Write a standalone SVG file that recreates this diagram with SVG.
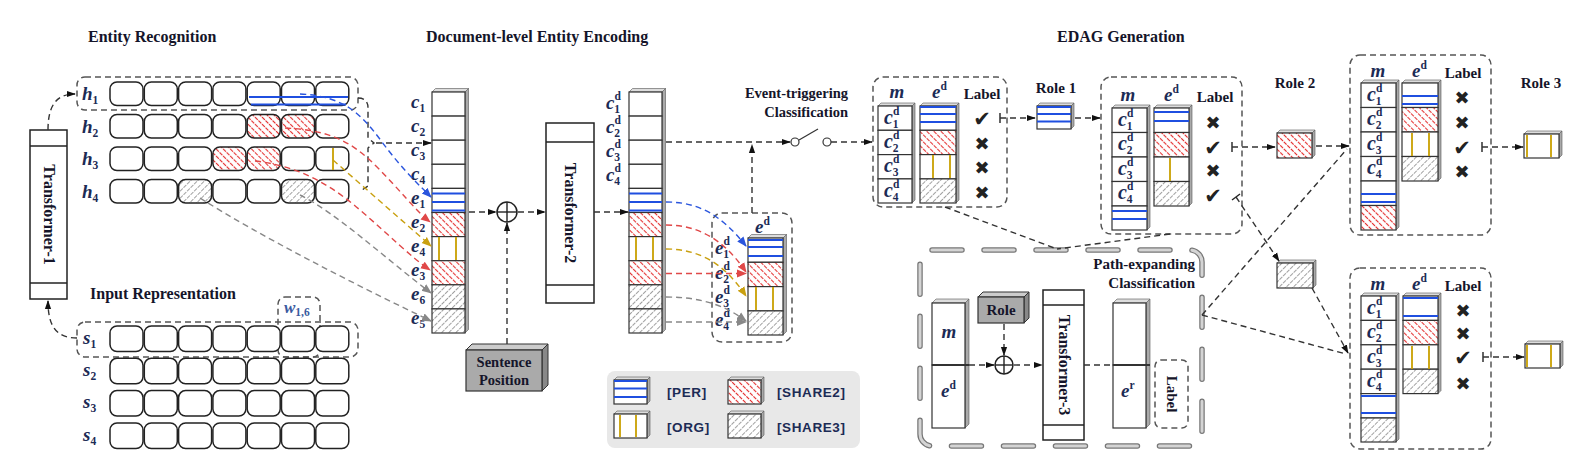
<svg xmlns="http://www.w3.org/2000/svg" width="1595" height="475" viewBox="0 0 1595 475">
<defs>
<style>
.title{font-family:"Liberation Serif",serif;font-weight:bold;font-size:16px;fill:#15152a}
.lbl{font-family:"Liberation Serif",serif;font-weight:bold;font-size:15px;fill:#15152a}
.lbl14{font-family:"Liberation Serif",serif;font-weight:bold;font-size:14.5px;fill:#15152a}
.math{font-family:"Liberation Serif",serif;font-style:italic;font-weight:bold;font-size:19px;fill:#1c2b55}
.sub{font-size:11.5px;font-style:normal}
.leg{font-family:"Liberation Sans",sans-serif;font-weight:bold;font-size:13.5px;fill:#1c2b55;letter-spacing:0.6px}
.mark{font-family:"DejaVu Sans",sans-serif;font-size:18px;fill:#222;text-anchor:middle}
.ck{font-size:21px}
.rc{fill:#fff;stroke:#222;stroke-width:1.5}
.bx{stroke:#333;stroke-width:1.2}
.w{fill:#fff}
.s2{fill:url(#p2)}
.s3{fill:url(#p3)}
.side{fill:#aaa;stroke:#555;stroke-width:0.6}
.top{fill:#ddd;stroke:#555;stroke-width:0.6}
.per{stroke:#1f4fe0;stroke-width:1.8}
.org{stroke:#c9a000;stroke-width:1.8}
.dbox{fill:none;stroke:#555;stroke-width:1.5;stroke-dasharray:6 4}
.arr{fill:none;stroke:#333;stroke-width:1.4;stroke-dasharray:6 4}
.arg{fill:none;stroke:#888;stroke-width:1.4;stroke-dasharray:6 4}
.ab{fill:none;stroke:#2a55dd;stroke-width:1.4;stroke-dasharray:6 4}
.ar{fill:none;stroke:#e04848;stroke-width:1.4;stroke-dasharray:6 4}
.ay{fill:none;stroke:#c9a010;stroke-width:1.4;stroke-dasharray:6 4}
.solid{fill:none;stroke:#222;stroke-width:1.4}
.tf{font-family:"Liberation Serif",serif;font-weight:bold;font-size:16px;fill:#15152a;text-anchor:middle}
</style>
<pattern id="p2" width="5" height="5" patternUnits="userSpaceOnUse" patternTransform="rotate(-45)">
<rect width="5" height="5" fill="#fff"/>
<line x1="2.5" y1="0" x2="2.5" y2="5" stroke="#e53030" stroke-width="1.1" stroke-dasharray="2 1"/>
</pattern>
<pattern id="p3" width="5" height="5" patternUnits="userSpaceOnUse" patternTransform="rotate(45)">
<rect width="5" height="5" fill="#fff"/>
<line x1="2.5" y1="0" x2="2.5" y2="5" stroke="#888" stroke-width="0.8" stroke-dasharray="3 1"/>
</pattern>
<marker id="mk" viewBox="0 0 10 10" refX="9" refY="5" markerWidth="9" markerHeight="9" markerUnits="userSpaceOnUse" orient="auto"><path d="M0,1.5 L10,5 L0,8.5 z" fill="#111"/></marker>
<marker id="mb" viewBox="0 0 10 10" refX="9" refY="5" markerWidth="10" markerHeight="10" markerUnits="userSpaceOnUse" orient="auto"><path d="M0,1 L10,5 L0,9 z" fill="#2a55dd"/></marker>
<marker id="mr" viewBox="0 0 10 10" refX="9" refY="5" markerWidth="10" markerHeight="10" markerUnits="userSpaceOnUse" orient="auto"><path d="M0,1 L10,5 L0,9 z" fill="#e04848"/></marker>
<marker id="my" viewBox="0 0 10 10" refX="9" refY="5" markerWidth="10" markerHeight="10" markerUnits="userSpaceOnUse" orient="auto"><path d="M0,1 L10,5 L0,9 z" fill="#c9a010"/></marker>
<marker id="mg" viewBox="0 0 10 10" refX="9" refY="5" markerWidth="10" markerHeight="10" markerUnits="userSpaceOnUse" orient="auto"><path d="M0,1 L10,5 L0,9 z" fill="#888"/></marker>
</defs>
<rect width="1595" height="475" fill="#fff"/>

<g id="titles">
<text class="title" x="88" y="42">Entity Recognition</text>
<text class="title" x="426" y="42">Document-level Entity Encoding</text>
<text class="title" x="1057" y="42">EDAG Generation</text>
<text class="title" x="90" y="299">Input Representation</text>
</g>

<g id="transformer1">
<rect x="30" y="130" width="37" height="169" fill="#fff" stroke="#222" stroke-width="1.5"/>
<line x1="30" y1="146" x2="67" y2="146" stroke="#222" stroke-width="1.3"/>
<line x1="30" y1="283" x2="67" y2="283" stroke="#222" stroke-width="1.3"/>
<text class="tf" transform="translate(48.5,214.5) rotate(90)" dy="5">Transformer-1</text>
</g>

<g id="h-rows">
<rect x="77" y="77" width="281" height="33" rx="8" class="dbox"/>
<text class="math" x="82" y="100">h<tspan class="sub" dy="4">1</tspan></text>
<text class="math" x="82" y="132.5">h<tspan class="sub" dy="4">2</tspan></text>
<text class="math" x="82" y="165">h<tspan class="sub" dy="4">3</tspan></text>
<text class="math" x="82" y="197.5">h<tspan class="sub" dy="4">4</tspan></text>
<g>
<rect class="rc" x="110" y="82" width="33" height="23.5" rx="7"/><rect class="rc" x="144.3" y="82" width="33" height="23.5" rx="7"/><rect class="rc" x="178.6" y="82" width="33" height="23.5" rx="7"/><rect class="rc" x="212.9" y="82" width="33" height="23.5" rx="7"/><rect class="rc" x="247.2" y="82" width="33" height="23.5" rx="7"/><rect class="rc" x="281.5" y="82" width="33" height="23.5" rx="7"/><rect class="rc" x="315.8" y="82" width="33" height="23.5" rx="7"/>
<line class="per" x1="249" y1="97" x2="348" y2="97"/><line class="per" x1="251" y1="104.5" x2="346" y2="104.5"/>
</g>
<g>
<rect class="rc" x="110" y="114.5" width="33" height="23.5" rx="7"/><rect class="rc" x="144.3" y="114.5" width="33" height="23.5" rx="7"/><rect class="rc" x="178.6" y="114.5" width="33" height="23.5" rx="7"/><rect class="rc" x="212.9" y="114.5" width="33" height="23.5" rx="7"/><rect class="rc s2" x="247.2" y="114.5" width="33" height="23.5" rx="7"/><rect class="rc s2" x="281.5" y="114.5" width="33" height="23.5" rx="7"/><rect class="rc" x="315.8" y="114.5" width="33" height="23.5" rx="7"/>
</g>
<g>
<rect class="rc" x="110" y="147" width="33" height="23.5" rx="7"/><rect class="rc" x="144.3" y="147" width="33" height="23.5" rx="7"/><rect class="rc" x="178.6" y="147" width="33" height="23.5" rx="7"/><rect class="rc s2" x="212.9" y="147" width="33" height="23.5" rx="7"/><rect class="rc s2" x="247.2" y="147" width="33" height="23.5" rx="7"/><rect class="rc" x="281.5" y="147" width="33" height="23.5" rx="7"/><rect class="rc" x="315.8" y="147" width="33" height="23.5" rx="7"/>
<line class="org" x1="333" y1="148" x2="333" y2="170"/>
</g>
<g>
<rect class="rc" x="110" y="179.5" width="33" height="23.5" rx="7"/><rect class="rc" x="144.3" y="179.5" width="33" height="23.5" rx="7"/><rect class="rc s3" x="178.6" y="179.5" width="33" height="23.5" rx="7"/><rect class="rc" x="212.9" y="179.5" width="33" height="23.5" rx="7"/><rect class="rc" x="247.2" y="179.5" width="33" height="23.5" rx="7"/><rect class="rc s3" x="281.5" y="179.5" width="33" height="23.5" rx="7"/><rect class="rc" x="315.8" y="179.5" width="33" height="23.5" rx="7"/>
</g>
</g>

<g id="s-rows">
<rect x="77" y="322" width="281" height="35" rx="8" class="dbox"/>
<rect x="278" y="297" width="42" height="60" rx="7" class="dbox"/>
<text class="math" x="284" y="313" style="fill:#3a5aa0;font-size:17px">w<tspan class="sub" dy="3">1,6</tspan></text>
<text class="math" x="83" y="344">s<tspan class="sub" dy="4">1</tspan></text>
<text class="math" x="83" y="376">s<tspan class="sub" dy="4">2</tspan></text>
<text class="math" x="83" y="408">s<tspan class="sub" dy="4">3</tspan></text>
<text class="math" x="83" y="441">s<tspan class="sub" dy="4">4</tspan></text>
<rect class="rc" x="110" y="326" width="33" height="25.5" rx="7"/><rect class="rc" x="144.3" y="326" width="33" height="25.5" rx="7"/><rect class="rc" x="178.6" y="326" width="33" height="25.5" rx="7"/><rect class="rc" x="212.9" y="326" width="33" height="25.5" rx="7"/><rect class="rc" x="247.2" y="326" width="33" height="25.5" rx="7"/><rect class="rc" x="281.5" y="326" width="33" height="25.5" rx="7"/><rect class="rc" x="315.8" y="326" width="33" height="25.5" rx="7"/>
<rect class="rc" x="110" y="358.3" width="33" height="25.5" rx="7"/><rect class="rc" x="144.3" y="358.3" width="33" height="25.5" rx="7"/><rect class="rc" x="178.6" y="358.3" width="33" height="25.5" rx="7"/><rect class="rc" x="212.9" y="358.3" width="33" height="25.5" rx="7"/><rect class="rc" x="247.2" y="358.3" width="33" height="25.5" rx="7"/><rect class="rc" x="281.5" y="358.3" width="33" height="25.5" rx="7"/><rect class="rc" x="315.8" y="358.3" width="33" height="25.5" rx="7"/>
<rect class="rc" x="110" y="390.6" width="33" height="25.5" rx="7"/><rect class="rc" x="144.3" y="390.6" width="33" height="25.5" rx="7"/><rect class="rc" x="178.6" y="390.6" width="33" height="25.5" rx="7"/><rect class="rc" x="212.9" y="390.6" width="33" height="25.5" rx="7"/><rect class="rc" x="247.2" y="390.6" width="33" height="25.5" rx="7"/><rect class="rc" x="281.5" y="390.6" width="33" height="25.5" rx="7"/><rect class="rc" x="315.8" y="390.6" width="33" height="25.5" rx="7"/>
<rect class="rc" x="110" y="423" width="33" height="25.5" rx="7"/><rect class="rc" x="144.3" y="423" width="33" height="25.5" rx="7"/><rect class="rc" x="178.6" y="423" width="33" height="25.5" rx="7"/><rect class="rc" x="212.9" y="423" width="33" height="25.5" rx="7"/><rect class="rc" x="247.2" y="423" width="33" height="25.5" rx="7"/><rect class="rc" x="281.5" y="423" width="33" height="25.5" rx="7"/><rect class="rc" x="315.8" y="423" width="33" height="25.5" rx="7"/>
</g>

<g id="col-ce">
<polygon class="side" points="465,92 468.5,88.5 468.5,329.5 465,333"/>
<polygon class="top" points="432,92 435.5,88.5 468.5,88.5 465,92"/>
<rect class="bx w" x="432" y="92" width="33" height="24.1"/>
<rect class="bx w" x="432" y="116.1" width="33" height="24.1"/>
<rect class="bx w" x="432" y="140.2" width="33" height="24.1"/>
<rect class="bx w" x="432" y="164.3" width="33" height="24.1"/>
<rect class="bx w" x="432" y="188.4" width="33" height="24.1"/>
<rect class="bx s2" x="432" y="212.5" width="33" height="24.1"/>
<rect class="bx w" x="432" y="236.6" width="33" height="24.1"/>
<rect class="bx s2" x="432" y="260.7" width="33" height="24.1"/>
<rect class="bx s3" x="432" y="284.8" width="33" height="24.1"/>
<rect class="bx s3" x="432" y="308.9" width="33" height="24.1"/>
<line class="per" x1="432" y1="193.5" x2="465" y2="193.5"/><line class="per" x1="432" y1="202" x2="465" y2="202"/><line class="per" x1="432" y1="210.5" x2="465" y2="210.5"/>
<line class="org" x1="439" y1="237" x2="439" y2="260"/><line class="org" x1="456" y1="237" x2="456" y2="260"/>
<text class="math" x="411" y="108">c<tspan class="sub" dy="4">1</tspan></text>
<text class="math" x="411" y="132">c<tspan class="sub" dy="4">2</tspan></text>
<text class="math" x="411" y="156">c<tspan class="sub" dy="4">3</tspan></text>
<text class="math" x="411" y="180">c<tspan class="sub" dy="4">4</tspan></text>
<text class="math" x="411" y="204">e<tspan class="sub" dy="4">1</tspan></text>
<text class="math" x="411" y="228">e<tspan class="sub" dy="4">2</tspan></text>
<text class="math" x="411" y="252">e<tspan class="sub" dy="4">4</tspan></text>
<text class="math" x="411" y="276">e<tspan class="sub" dy="4">3</tspan></text>
<text class="math" x="411" y="300">e<tspan class="sub" dy="4">6</tspan></text>
<text class="math" x="411" y="324">e<tspan class="sub" dy="4">5</tspan></text>
</g>

<g id="sum1">
<circle cx="507" cy="212" r="10" fill="#fff" stroke="#222" stroke-width="1.5"/>
<line x1="497" y1="212" x2="517" y2="212" stroke="#222" stroke-width="1.4"/>
<line x1="507" y1="202" x2="507" y2="222" stroke="#222" stroke-width="1.4"/>
</g>

<g id="sentence-position">
<polygon points="466,350 472,344 548,344 542,350" fill="#ccc" stroke="#333" stroke-width="1"/>
<polygon points="542,350 548,344 548,385 542,391" fill="#888" stroke="#333" stroke-width="1"/>
<rect x="466" y="350" width="76" height="41" fill="#aaa" stroke="#333" stroke-width="1.2"/>
<text class="lbl14" x="504" y="367" text-anchor="middle">Sentence</text>
<text class="lbl14" x="504" y="385" text-anchor="middle">Position</text>
</g>

<g id="transformer2">
<rect x="546" y="123" width="48" height="180" fill="#fff" stroke="#222" stroke-width="1.5"/>
<line x1="546" y1="142" x2="594" y2="142" stroke="#222" stroke-width="1.3"/>
<line x1="546" y1="285" x2="594" y2="285" stroke="#222" stroke-width="1.3"/>
<text class="tf" transform="translate(570,213) rotate(90)" dy="5">Transformer-2</text>
</g>

<g id="col-cd">
<polygon class="side" points="662,92 665.5,88.5 665.5,329.5 662,333"/>
<polygon class="top" points="629,92 632.5,88.5 665.5,88.5 662,92"/>
<rect class="bx w" x="629" y="92" width="33" height="24.1"/>
<rect class="bx w" x="629" y="116.1" width="33" height="24.1"/>
<rect class="bx w" x="629" y="140.2" width="33" height="24.1"/>
<rect class="bx w" x="629" y="164.3" width="33" height="24.1"/>
<rect class="bx w" x="629" y="188.4" width="33" height="24.1"/>
<rect class="bx s2" x="629" y="212.5" width="33" height="24.1"/>
<rect class="bx w" x="629" y="236.6" width="33" height="24.1"/>
<rect class="bx s2" x="629" y="260.7" width="33" height="24.1"/>
<rect class="bx s3" x="629" y="284.8" width="33" height="24.1"/>
<rect class="bx s3" x="629" y="308.9" width="33" height="24.1"/>
<line class="per" x1="629" y1="193.5" x2="662" y2="193.5"/><line class="per" x1="629" y1="202" x2="662" y2="202"/><line class="per" x1="629" y1="210.5" x2="662" y2="210.5"/>
<line class="org" x1="636" y1="237" x2="636" y2="260"/><line class="org" x1="653" y1="237" x2="653" y2="260"/>
<text class="math" x="606" y="109">c<tspan class="sub" dy="-9">d</tspan><tspan class="sub" dx="-6.5" dy="13">1</tspan></text>
<text class="math" x="606" y="133">c<tspan class="sub" dy="-9">d</tspan><tspan class="sub" dx="-6.5" dy="13">2</tspan></text>
<text class="math" x="606" y="157">c<tspan class="sub" dy="-9">d</tspan><tspan class="sub" dx="-6.5" dy="13">3</tspan></text>
<text class="math" x="606" y="181">c<tspan class="sub" dy="-9">d</tspan><tspan class="sub" dx="-6.5" dy="13">4</tspan></text>
</g>

<g id="ed-box">
<rect x="712" y="213" width="80" height="129" rx="10" class="dbox"/>
<text class="math" x="755" y="233">e<tspan class="sub" dy="-8">d</tspan></text>
<polygon class="side" points="783,238 786.5,234.5 786.5,331.5 783,335"/>
<polygon class="top" points="748,238 751.5,234.5 786.5,234.5 783,238"/>
<rect class="bx w" x="748" y="238" width="35" height="24.3"/>
<rect class="bx s2" x="748" y="262.3" width="35" height="24.3"/>
<rect class="bx w" x="748" y="286.6" width="35" height="24.3"/>
<rect class="bx s3" x="748" y="310.9" width="35" height="24.1"/>
<line class="per" x1="748" y1="240" x2="783" y2="240"/><line class="per" x1="748" y1="247" x2="783" y2="247"/><line class="per" x1="748" y1="256" x2="783" y2="256"/>
<line class="org" x1="756" y1="287" x2="756" y2="310"/><line class="org" x1="773" y1="287" x2="773" y2="310"/>
<text class="math" x="715" y="254">e<tspan class="sub" dy="-9">d</tspan><tspan class="sub" dx="-6.5" dy="13">1</tspan></text>
<text class="math" x="715" y="279">e<tspan class="sub" dy="-9">d</tspan><tspan class="sub" dx="-6.5" dy="13">2</tspan></text>
<text class="math" x="715" y="303">e<tspan class="sub" dy="-9">d</tspan><tspan class="sub" dx="-6.5" dy="13">3</tspan></text>
<text class="math" x="715" y="326">e<tspan class="sub" dy="-9">d</tspan><tspan class="sub" dx="-6.5" dy="13">4</tspan></text>
</g>

<g id="switch">
<text class="lbl14" x="848" y="98" text-anchor="end">Event-triggering</text>
<text class="lbl14" x="848" y="117" text-anchor="end">Classification</text>
<circle cx="795" cy="142" r="4" fill="#fff" stroke="#333" stroke-width="1.2"/>
<line x1="799" y1="140" x2="818" y2="129" stroke="#333" stroke-width="1.2"/>
<circle cx="827" cy="142" r="4" fill="#fff" stroke="#333" stroke-width="1.2"/>
</g>

<g id="legend">
<rect x="607" y="371" width="253" height="77" rx="8" fill="#e8e8e8"/>
<polygon class="side" points="647,380 650,377 650,401 647,404"/><polygon class="top" points="614,380 617,377 650,377 647,380"/>
<rect class="bx w" x="614" y="380" width="33" height="24"/>
<line class="per" x1="614" y1="381" x2="647" y2="381"/><line class="per" x1="614" y1="388.5" x2="647" y2="388.5"/><line class="per" x1="614" y1="397" x2="647" y2="397"/>
<text class="leg" x="667" y="397">[PER]</text>
<polygon class="side" points="761,380 764,377 764,401 761,404"/><polygon class="top" points="728,380 731,377 764,377 761,380"/>
<rect class="bx s2" x="728" y="380" width="33" height="24"/>
<text class="leg" x="777" y="397">[SHARE2]</text>
<polygon class="side" points="647,414 650,411 650,435 647,438"/><polygon class="top" points="614,414 617,411 650,411 647,414"/>
<rect class="bx w" x="614" y="414" width="33" height="24"/>
<line class="org" x1="620" y1="415" x2="620" y2="437"/><line class="org" x1="636" y1="415" x2="636" y2="437"/>
<text class="leg" x="667" y="432">[ORG]</text>
<polygon class="side" points="761,414 764,411 764,435 761,438"/><polygon class="top" points="728,414 731,411 764,411 761,414"/>
<rect class="bx s3" x="728" y="414" width="33" height="24"/>
<text class="leg" x="777" y="432">[SHARE3]</text>
</g>

<g id="box-a">
<rect x="873" y="77" width="134" height="130" rx="10" class="dbox"/>
<text class="math" x="897" y="98" text-anchor="middle">m</text>
<text class="math" x="932" y="98">e<tspan class="sub" dy="-8">d</tspan></text>
<text class="lbl" x="982" y="99" text-anchor="middle">Label</text>
<polygon class="side" points="912,106 915,103 915,200 912,203"/><polygon class="top" points="878,106 881,103 915,103 912,106"/>
<rect class="bx w" x="878" y="106" width="34" height="24.3"/>
<rect class="bx w" x="878" y="130.3" width="34" height="24.3"/>
<rect class="bx w" x="878" y="154.6" width="34" height="24.3"/>
<rect class="bx w" x="878" y="178.9" width="34" height="24.1"/>
<text class="math" x="884" y="124" style="font-size:20px">c<tspan class="sub" dy="-9">d</tspan><tspan class="sub" dx="-6.5" dy="13">1</tspan></text>
<text class="math" x="884" y="148" style="font-size:20px">c<tspan class="sub" dy="-9">d</tspan><tspan class="sub" dx="-6.5" dy="13">2</tspan></text>
<text class="math" x="884" y="172" style="font-size:20px">c<tspan class="sub" dy="-9">d</tspan><tspan class="sub" dx="-6.5" dy="13">3</tspan></text>
<text class="math" x="884" y="197" style="font-size:20px">c<tspan class="sub" dy="-9">d</tspan><tspan class="sub" dx="-6.5" dy="13">4</tspan></text>
<polygon class="side" points="956,106 959,103 959,200 956,203"/><polygon class="top" points="920,106 923,103 959,103 956,106"/>
<rect class="bx w" x="920" y="106" width="36" height="24.3"/>
<rect class="bx s2" x="920" y="130.3" width="36" height="24.3"/>
<rect class="bx w" x="920" y="154.6" width="36" height="24.3"/>
<rect class="bx s3" x="920" y="178.9" width="36" height="24.1"/>
<line class="per" x1="920" y1="107" x2="956" y2="107"/><line class="per" x1="920" y1="114" x2="956" y2="114"/><line class="per" x1="920" y1="122" x2="956" y2="122"/>
<line class="org" x1="933" y1="155" x2="933" y2="178"/><line class="org" x1="950" y1="155" x2="950" y2="178"/>
<text class="mark ck" x="982" y="126">✔</text>
<text class="mark" x="982" y="150">✖</text>
<text class="mark" x="982" y="174">✖</text>
<text class="mark" x="982" y="199">✖</text>
</g>

<g id="role1">
<text class="lbl" x="1056" y="93" text-anchor="middle">Role 1</text>
<polygon class="side" points="1071,106 1074,103 1074,126 1071,129"/><polygon class="top" points="1037,106 1040,103 1074,103 1071,106"/>
<rect class="bx w" x="1037" y="106" width="34" height="23"/>
<line class="per" x1="1037" y1="107" x2="1071" y2="107"/><line class="per" x1="1037" y1="114" x2="1071" y2="114"/><line class="per" x1="1037" y1="121.5" x2="1071" y2="121.5"/>
</g>

<g id="box-b">
<rect x="1101" y="77" width="141" height="157" rx="10" class="dbox"/>
<text class="math" x="1128" y="101" text-anchor="middle">m</text>
<text class="math" x="1164" y="101">e<tspan class="sub" dy="-8">d</tspan></text>
<text class="lbl" x="1215" y="102" text-anchor="middle">Label</text>
<polygon class="side" points="1147,108 1150,105 1150,227 1147,230"/><polygon class="top" points="1112,108 1115,105 1150,105 1147,108"/>
<rect class="bx w" x="1112" y="108" width="35" height="24.5"/>
<rect class="bx w" x="1112" y="132.5" width="35" height="24.5"/>
<rect class="bx w" x="1112" y="157" width="35" height="24.5"/>
<rect class="bx w" x="1112" y="181.5" width="35" height="24.5"/>
<rect class="bx w" x="1112" y="206" width="35" height="24"/>
<line class="per" x1="1112" y1="211" x2="1147" y2="211"/><line class="per" x1="1112" y1="219" x2="1147" y2="219"/>
<text class="math" x="1118" y="126" style="font-size:20px">c<tspan class="sub" dy="-9">d</tspan><tspan class="sub" dx="-6.5" dy="13">1</tspan></text>
<text class="math" x="1118" y="150" style="font-size:20px">c<tspan class="sub" dy="-9">d</tspan><tspan class="sub" dx="-6.5" dy="13">2</tspan></text>
<text class="math" x="1118" y="175" style="font-size:20px">c<tspan class="sub" dy="-9">d</tspan><tspan class="sub" dx="-6.5" dy="13">3</tspan></text>
<text class="math" x="1118" y="199" style="font-size:20px">c<tspan class="sub" dy="-9">d</tspan><tspan class="sub" dx="-6.5" dy="13">4</tspan></text>
<polygon class="side" points="1189,108 1192,105 1192,203 1189,206"/><polygon class="top" points="1154,108 1157,105 1192,105 1189,108"/>
<rect class="bx w" x="1154" y="108" width="35" height="24.5"/>
<rect class="bx s2" x="1154" y="132.5" width="35" height="24.5"/>
<rect class="bx w" x="1154" y="157" width="35" height="24.5"/>
<rect class="bx s3" x="1154" y="181.5" width="35" height="24.5"/>
<line class="per" x1="1154" y1="112" x2="1189" y2="112"/><line class="per" x1="1154" y1="121" x2="1189" y2="121"/>
<line class="org" x1="1170" y1="158" x2="1170" y2="181"/>
<text class="mark" x="1213" y="129">✖</text>
<text class="mark ck" x="1213" y="155">✔</text>
<text class="mark" x="1213" y="177">✖</text>
<text class="mark ck" x="1213" y="203">✔</text>
</g>

<g id="role2">
<text class="lbl" x="1295" y="88" text-anchor="middle">Role 2</text>
<polygon class="side" points="1312,133 1315,130 1315,155 1312,158"/><polygon class="top" points="1277,133 1280,130 1315,130 1312,133"/>
<rect class="bx s2" x="1277" y="133" width="35" height="25"/>
</g>

<g id="box-c">
<rect x="1350" y="55" width="141" height="180" rx="10" class="dbox"/>
<text class="math" x="1378" y="77" text-anchor="middle">m</text>
<text class="math" x="1412" y="77">e<tspan class="sub" dy="-8">d</tspan></text>
<text class="lbl" x="1463" y="78" text-anchor="middle">Label</text>
<polygon class="side" points="1396,83 1399,80 1399,227 1396,230"/><polygon class="top" points="1361,83 1364,80 1399,80 1396,83"/>
<rect class="bx w" x="1361" y="83" width="35" height="24.5"/>
<rect class="bx w" x="1361" y="107.5" width="35" height="24.5"/>
<rect class="bx w" x="1361" y="132" width="35" height="24.5"/>
<rect class="bx w" x="1361" y="156.5" width="35" height="24.5"/>
<rect class="bx w" x="1361" y="181" width="35" height="24.5"/>
<rect class="bx s2" x="1361" y="205.5" width="35" height="24.5"/>
<line class="per" x1="1361" y1="194" x2="1396" y2="194"/><line class="per" x1="1361" y1="202" x2="1396" y2="202"/>
<text class="math" x="1367" y="101" style="font-size:20px">c<tspan class="sub" dy="-9">d</tspan><tspan class="sub" dx="-6.5" dy="13">1</tspan></text>
<text class="math" x="1367" y="125" style="font-size:20px">c<tspan class="sub" dy="-9">d</tspan><tspan class="sub" dx="-6.5" dy="13">2</tspan></text>
<text class="math" x="1367" y="150" style="font-size:20px">c<tspan class="sub" dy="-9">d</tspan><tspan class="sub" dx="-6.5" dy="13">3</tspan></text>
<text class="math" x="1367" y="174" style="font-size:20px">c<tspan class="sub" dy="-9">d</tspan><tspan class="sub" dx="-6.5" dy="13">4</tspan></text>
<polygon class="side" points="1438,83 1441,80 1441,178 1438,181"/><polygon class="top" points="1402,83 1405,80 1441,80 1438,83"/>
<rect class="bx w" x="1402" y="83" width="36" height="24.5"/>
<rect class="bx s2" x="1402" y="107.5" width="36" height="24.5"/>
<rect class="bx w" x="1402" y="132" width="36" height="24.5"/>
<rect class="bx s3" x="1402" y="156.5" width="36" height="24.5"/>
<line class="per" x1="1402" y1="96" x2="1438" y2="96"/><line class="per" x1="1402" y1="104" x2="1438" y2="104"/>
<line class="org" x1="1412" y1="133" x2="1412" y2="156"/><line class="org" x1="1429" y1="133" x2="1429" y2="156"/>
<text class="mark" x="1462" y="104">✖</text>
<text class="mark" x="1462" y="129">✖</text>
<text class="mark ck" x="1462" y="155">✔</text>
<text class="mark" x="1462" y="178">✖</text>
</g>

<g id="role3">
<text class="lbl" x="1541" y="88" text-anchor="middle">Role 3</text>
<polygon class="side" points="1559,134 1562,131 1562,155 1559,158"/><polygon class="top" points="1524,134 1527,131 1562,131 1559,134"/>
<rect class="bx w" x="1524" y="134" width="35" height="24"/>
<line class="org" x1="1527" y1="135" x2="1527" y2="157"/><line class="org" x1="1551" y1="135" x2="1551" y2="157"/>
</g>

<g id="share3-node">
<polygon class="side" points="1313,263 1316,260 1316,285 1313,288"/><polygon class="top" points="1277,263 1280,260 1316,260 1313,263"/>
<rect class="bx s3" x="1277" y="263" width="36" height="25"/>
</g>

<g id="box-d">
<rect x="1350" y="268" width="141" height="181" rx="10" class="dbox"/>
<text class="math" x="1378" y="290" text-anchor="middle">m</text>
<text class="math" x="1412" y="290">e<tspan class="sub" dy="-8">d</tspan></text>
<text class="lbl" x="1463" y="291" text-anchor="middle">Label</text>
<polygon class="side" points="1396,296 1399,293 1399,439 1396,442"/><polygon class="top" points="1361,296 1364,293 1399,293 1396,296"/>
<rect class="bx w" x="1361" y="296" width="35" height="24.4"/>
<rect class="bx w" x="1361" y="320.4" width="35" height="24.4"/>
<rect class="bx w" x="1361" y="344.8" width="35" height="24.4"/>
<rect class="bx w" x="1361" y="369.2" width="35" height="24.4"/>
<rect class="bx w" x="1361" y="393.6" width="35" height="24.4"/>
<rect class="bx s3" x="1361" y="418" width="35" height="24"/>
<line class="per" x1="1361" y1="396" x2="1396" y2="396"/><line class="per" x1="1361" y1="413" x2="1396" y2="413"/>
<text class="math" x="1367" y="314" style="font-size:20px">c<tspan class="sub" dy="-9">d</tspan><tspan class="sub" dx="-6.5" dy="13">1</tspan></text>
<text class="math" x="1367" y="338" style="font-size:20px">c<tspan class="sub" dy="-9">d</tspan><tspan class="sub" dx="-6.5" dy="13">2</tspan></text>
<text class="math" x="1367" y="363" style="font-size:20px">c<tspan class="sub" dy="-9">d</tspan><tspan class="sub" dx="-6.5" dy="13">3</tspan></text>
<text class="math" x="1367" y="387" style="font-size:20px">c<tspan class="sub" dy="-9">d</tspan><tspan class="sub" dx="-6.5" dy="13">4</tspan></text>
<polygon class="side" points="1438,296 1441,293 1441,390.6 1438,393.6"/><polygon class="top" points="1403,296 1406,293 1441,293 1438,296"/>
<rect class="bx w" x="1403" y="296" width="35" height="24.4"/>
<rect class="bx s2" x="1403" y="320.4" width="35" height="24.4"/>
<rect class="bx w" x="1403" y="344.8" width="35" height="24.4"/>
<rect class="bx s3" x="1403" y="369.2" width="35" height="24.4"/>
<line class="per" x1="1403" y1="298" x2="1438" y2="298"/><line class="per" x1="1403" y1="316" x2="1438" y2="316"/>
<line class="org" x1="1412" y1="346" x2="1412" y2="369"/><line class="org" x1="1429" y1="346" x2="1429" y2="369"/>
<text class="mark" x="1463" y="317">✖</text>
<text class="mark" x="1463" y="340">✖</text>
<text class="mark ck" x="1463" y="365">✔</text>
<text class="mark" x="1463" y="390">✖</text>
</g>

<g id="role3-b">
<polygon class="side" points="1560,344 1563,341 1563,365 1560,368"/><polygon class="top" points="1525,344 1528,341 1563,341 1560,344"/>
<rect class="bx w" x="1525" y="344" width="35" height="24"/>
<line class="org" x1="1527" y1="345" x2="1527" y2="367"/><line class="org" x1="1551" y1="345" x2="1551" y2="367"/>
</g>

<g id="path-expanding">
<rect x="920" y="250" width="282" height="196" rx="12" fill="none" stroke="#777" stroke-width="5.5" stroke-dasharray="30 22" stroke-linecap="round"/>
<rect x="920" y="250" width="282" height="196" rx="12" fill="none" stroke="#d4d4d4" stroke-width="3" stroke-dasharray="30 22" stroke-linecap="round"/>
<text class="lbl" x="1195" y="269" text-anchor="end">Path-expanding</text>
<text class="lbl" x="1195" y="288" text-anchor="end">Classification</text>
<polygon class="side" points="965,303 969,299 969,424 965,428"/><polygon class="top" points="932,303 936,299 969,299 965,303"/>
<rect class="bx w" x="932" y="303" width="33" height="62"/>
<rect class="bx w" x="932" y="365" width="33" height="63"/>
<line x1="932" y1="365" x2="969" y2="365" stroke="#333" stroke-width="2"/>
<text class="math" x="949" y="338" text-anchor="middle">m</text>
<text class="math" x="941" y="397">e<tspan class="sub" dy="-8">d</tspan></text>
<polygon points="978,297 983,292 1029,292 1024,297" fill="#ccc" stroke="#333" stroke-width="1"/>
<polygon points="1024,297 1029,292 1029,318 1024,323" fill="#888" stroke="#333" stroke-width="1"/>
<rect x="978" y="297" width="46" height="26" fill="#aaa" stroke="#333" stroke-width="1.2"/>
<text class="lbl" x="1001" y="315" text-anchor="middle">Role</text>
<circle cx="1004" cy="365" r="9" fill="#fff" stroke="#222" stroke-width="1.5"/>
<line x1="995" y1="365" x2="1013" y2="365" stroke="#222" stroke-width="1.4"/>
<line x1="1004" y1="356" x2="1004" y2="374" stroke="#222" stroke-width="1.4"/>
<rect x="1043" y="290" width="41" height="150" fill="#fff" stroke="#222" stroke-width="1.5"/>
<line x1="1043" y1="305" x2="1084" y2="305" stroke="#222" stroke-width="1.3"/>
<line x1="1043" y1="425" x2="1084" y2="425" stroke="#222" stroke-width="1.3"/>
<text class="tf" transform="translate(1063.5,365) rotate(90)" dy="5">Transformer-3</text>
<polygon class="side" points="1146,303 1150,299 1150,424 1146,428"/><polygon class="top" points="1113,303 1117,299 1150,299 1146,303"/>
<rect class="bx w" x="1113" y="303" width="33" height="62"/>
<rect class="bx w" x="1113" y="365" width="33" height="63"/>
<line x1="1113" y1="365" x2="1150" y2="365" stroke="#333" stroke-width="2"/>
<text class="math" x="1121" y="397">e<tspan class="sub" dy="-8">r</tspan></text>
<rect x="1155" y="360" width="33" height="68" rx="6" class="dbox"/>
<text class="lbl" transform="translate(1171.5,394) rotate(90)" text-anchor="middle" dy="5">Label</text>
</g>

<g id="connectors">
<path class="arr" d="M48,130 C48,106 56,94 75,94" marker-end="url(#mk)"/>
<path class="arr" d="M77,338 C56,338 48,326 48,301" marker-end="url(#mk)"/>
<path class="arr" d="M358,98 Q368,98 368,108 L368,138 L374,143 L368,148 L368,186 L362,190"/>
<path class="arr" d="M376,143 L431,143" marker-end="url(#mk)"/>
<path class="ab" d="M300,94 C345,96 362,115 382,142 S420,186 431,197" marker-end="url(#mb)"/>
<path class="ar" d="M285,128 C330,130 352,142 376,166 S415,210 430,222" marker-end="url(#mr)"/>
<path class="ar" d="M255,161 C300,166 332,186 360,210 S412,258 430,270" marker-end="url(#mr)"/>
<path class="ay" d="M333,160 L431,246" marker-end="url(#my)"/>
<path class="arg" d="M300,195 C335,212 385,258 431,293" marker-end="url(#mg)"/>
<path class="arg" d="M200,198 C260,236 350,282 431,321" marker-end="url(#mg)"/>
<path class="arr" d="M469,212 L496,212" marker-end="url(#mk)"/>
<path class="arr" d="M518,212 L545,212" marker-end="url(#mk)"/>
<path class="arr" d="M507,344 L507,223" marker-end="url(#mk)"/>
<path class="arr" d="M594,212 L628,212" marker-end="url(#mk)"/>
<path class="arr" d="M666,142 L790,142" marker-end="url(#mk)"/>
<path class="arr" d="M752,213 L752,145" marker-end="url(#mk)"/>
<path class="arr" d="M831,142 L872,142" marker-end="url(#mk)"/>
<path class="ab" d="M666,202 C700,202 722,216 746,246" marker-end="url(#mb)"/>
<path class="ar" d="M666,225 C700,225 725,241 746,272" marker-end="url(#mr)"/>
<path class="ay" d="M666,249 C702,249 726,266 746,296" marker-end="url(#my)"/>
<path class="ar" d="M666,273.5 L746,273.5" marker-end="url(#mr)"/>
<path class="arg" d="M666,297 C702,297 726,306 746,321" marker-end="url(#mg)"/>
<path class="arg" d="M666,322 L746,322" marker-end="url(#mg)"/>
<line class="solid" x1="1000" y1="113" x2="1000" y2="123"/>
<path class="arr" d="M1000,118 L1035,118" marker-end="url(#mk)"/>
<path class="arr" d="M1075,118 L1100,118" marker-end="url(#mk)"/>
<line class="solid" x1="1232" y1="142" x2="1232" y2="152"/>
<path class="arr" d="M1232,147 L1275,147" marker-end="url(#mk)"/>
<path class="arr" d="M1316,146 L1349,146" marker-end="url(#mk)"/>
<line class="solid" x1="1482" y1="142" x2="1482" y2="152"/>
<path class="arr" d="M1482,147 L1523,147" marker-end="url(#mk)"/>
<line class="solid" x1="1483" y1="352" x2="1483" y2="362"/>
<path class="arr" d="M1483,357 L1524,357" marker-end="url(#mk)"/>
<line class="solid" x1="1232" y1="200" x2="1240" y2="194"/>
<path class="arr" d="M1236,197 L1279,261" marker-end="url(#mk)"/>
<path class="arr" d="M1312,288 L1348,353" marker-end="url(#mk)"/>
<path class="arr" d="M1202,315 L1347,149"/>
<path class="arr" d="M1202,315 L1346,354"/>
<path class="arr" d="M945,207 L1057,249"/>
<path class="arr" d="M1170,234 L1057,249"/>
<path class="arr" d="M1004,324 L1004,355" marker-end="url(#mk)"/>
<path class="arr" d="M969,365 L994,365" marker-end="url(#mk)"/>
<path class="arr" d="M1014,365 L1042,365" marker-end="url(#mk)"/>
<path class="arr" d="M1084,365 L1113,365"/>
</g>
</svg>
